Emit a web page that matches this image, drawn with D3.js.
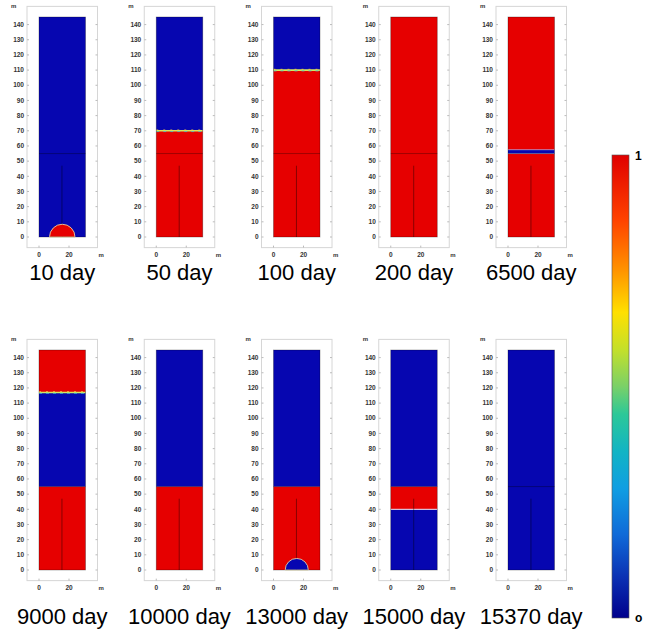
<!DOCTYPE html>
<html>
<head>
<meta charset="utf-8">
<script src="https://cdn.jsdelivr.net/npm/d3@7"></script>
<style>
  body { margin: 0; background: #fff; }
  svg { display: block; }
</style>
</head>
<body>
<svg id="chart"></svg>
<script>
// snapshot times (days), one panel each
var days = [10, 50, 100, 200, 6500, 9000, 10000, 13000, 15000, 15370];
// layers per panel: [bottom m, top m, value 0..1]
var layers = [
  [[0, 145, 0]],
  [[0, 70, 1], [70, 145, 0]],
  [[0, 110, 1], [110, 145, 0]],
  [[0, 145, 1]],
  [[0, 55, 1], [55, 57.5, 0], [57.5, 145, 1]],
  [[0, 55, 1], [55, 117, 0], [117, 145, 1]],
  [[0, 55, 1], [55, 145, 0]],
  [[0, 55, 1], [55, 145, 0]],
  [[0, 40, 0], [40, 55, 1], [55, 145, 0]],
  [[0, 145, 0]]
];
// dome at the well bottom: radius (m) and value, null when none
var domes = [[8.5, 1], null, null, null, null, null, null, [7.7, 0], null, null];
// mixing fronts (m), null when none
var fronts = [null, 70, 110, null, null, 117, null, null, null, null];
var yTicks = d3.range(0, 141, 10);
var xTicks = [0, 20];
var colorStops = [
  [0, "#00008c"], [0.08, "#0a2cb0"], [0.18, "#106ad8"], [0.28, "#109ee2"],
  [0.36, "#12b4c4"], [0.44, "#2cc898"], [0.5, "#7ad068"], [0.58, "#c4e02a"],
  [0.66, "#ffe000"], [0.75, "#ff9400"], [0.86, "#ff4200"], [1, "#e00000"]
];

var width = 646, height = 629;
var svg = d3.select("#chart").attr("width", width).attr("height", height);

var RED = "#e60000", BLUE = "#0606b0";
function fill(v) { return v > 0.5 ? RED : BLUE; }

var col = d3.scalePoint().domain(d3.range(5)).range([39, 508]);
var row = d3.scalePoint().domain([0, 1]).range([17, 350]);
var plotH = 220;

days.forEach(function (day, i) {
  var x0 = col(i % 5), y0 = row(Math.floor(i / 5));
  var x = d3.scaleLinear().domain([0, 31]).range([x0, x0 + 46.5]);
  var y = d3.scaleLinear().domain([0, 145]).range([y0 + plotH, y0]);
  var g = svg.append("g").attr("class", "panel");

  // frame
  var fx0 = x(-8), fx1 = x(39), fy0 = y(152), fy1 = y(-7);
  g.append("rect")
    .attr("x", fx0).attr("y", fy0)
    .attr("width", fx1 - fx0).attr("height", fy1 - fy0)
    .attr("fill", "#fff").attr("stroke", "#d6d6d6").attr("stroke-width", 1);

  // y ticks both sides
  yTicks.forEach(function (t) {
    g.append("line").attr("x1", fx0).attr("x2", fx0 + 2)
      .attr("y1", y(t)).attr("y2", y(t)).attr("stroke", "#bbb");
    g.append("line").attr("x1", fx1 - 2).attr("x2", fx1)
      .attr("y1", y(t)).attr("y2", y(t)).attr("stroke", "#bbb");
    g.append("text").attr("x", fx0 - 3).attr("y", y(t) + 2.2)
      .attr("text-anchor", "end")
      .style("font", "bold 6.5px 'Liberation Sans', Arial, sans-serif")
      .attr("fill", "#333").text(t);
  });
  xTicks.forEach(function (t) {
    g.append("line").attr("x1", x(t)).attr("x2", x(t))
      .attr("y1", fy1).attr("y2", fy1 - 2).attr("stroke", "#bbb");
    g.append("text").attr("x", x(t)).attr("y", fy1 + 9)
      .attr("text-anchor", "middle")
      .style("font", "bold 6.5px 'Liberation Sans', Arial, sans-serif")
      .attr("fill", "#333").text(t);
  });
  g.append("text").attr("x", fx0 - 16).attr("y", fy0 + 2)
    .style("font", "bold 6px 'Liberation Sans', Arial, sans-serif")
    .attr("fill", "#333").text("m");
  g.append("text").attr("x", fx1 + 1).attr("y", fy1 + 9)
    .style("font", "bold 6px 'Liberation Sans', Arial, sans-serif")
    .attr("fill", "#333").text("m");

  // layers
  g.selectAll("rect.layer")
    .data(layers[i])
    .enter()
    .append("rect")
    .attr("class", "layer")
    .attr("x", x(0))
    .attr("width", x(31) - x(0))
    .attr("y", function (d) { return y(d[1]); })
    .attr("height", function (d) { return y(d[0]) - y(d[1]); })
    .attr("fill", function (d) { return fill(d[2]); });

  // thin light edges around a narrow band
  layers[i].forEach(function (d) {
    if (d[1] - d[0] < 5) {
      [d[0], d[1]].forEach(function (v) {
        g.append("line").attr("x1", x(0)).attr("x2", x(31))
          .attr("y1", y(v)).attr("y2", y(v))
          .attr("stroke", "#9fb0ff").attr("stroke-width", 0.6);
      });
    }
  });
  if (day === 15000) {
    g.append("line").attr("x1", x(0)).attr("x2", x(31))
      .attr("y1", y(40)).attr("y2", y(40))
      .attr("stroke", "#e8e0f0").attr("stroke-width", 1);
  }

  // internal structure: interlayer at 55 m, well at 15 m
  g.append("line").attr("x1", x(0)).attr("x2", x(31))
    .attr("y1", y(55)).attr("y2", y(55))
    .attr("stroke", "#000").attr("stroke-opacity", 0.3).attr("stroke-width", 1);
  g.append("line").attr("x1", x(15.3)).attr("x2", x(15.3))
    .attr("y1", y(0)).attr("y2", y(47))
    .attr("stroke", "#000").attr("stroke-opacity", 0.4).attr("stroke-width", 1);

  // dome
  if (domes[i]) {
    var r = domes[i][0];
    var arc = d3.arc()
      .innerRadius(0)
      .outerRadius(x(r) - x(0))
      .startAngle(-Math.PI / 2)
      .endAngle(Math.PI / 2);
    g.append("path")
      .attr("d", arc())
      .attr("transform", "translate(" + x(15.5) + "," + y(0) + ")")
      .attr("fill", fill(domes[i][1]))
      .attr("stroke", "#f4e8b0").attr("stroke-width", 0.8);
  }

  // mixing front
  if (fronts[i] !== null) {
    var fy = y(fronts[i]);
    g.append("line").attr("x1", x(0)).attr("x2", x(31))
      .attr("y1", fy).attr("y2", fy)
      .attr("stroke", "#d4e860").attr("stroke-width", 1.6);
    g.append("line").attr("x1", x(0)).attr("x2", x(31))
      .attr("y1", fy + 0.8).attr("y2", fy + 0.8)
      .attr("stroke", "#40c8d0").attr("stroke-width", 0.8)
      .attr("stroke-dasharray", "3,4");
    g.append("line").attr("x1", x(0)).attr("x2", x(31))
      .attr("y1", fy - 0.8).attr("y2", fy - 0.8)
      .attr("stroke", "#ffd040").attr("stroke-width", 0.8)
      .attr("stroke-dasharray", "2,5");
  }

  // plot outline
  g.append("rect").attr("x", x(0)).attr("y", y(145))
    .attr("width", x(31) - x(0)).attr("height", y(0) - y(145))
    .attr("fill", "none").attr("stroke", "#000").attr("stroke-opacity", 0.35)
    .attr("stroke-width", 0.8);

  // title
  g.append("text")
    .attr("x", x(15.5))
    .attr("y", i < 5 ? 280 : 624)
    .attr("text-anchor", "middle")
    .style("font", "22px 'Liberation Sans', Arial, sans-serif")
    .attr("fill", "#000")
    .text(day + " day");
});

// colour bar
var defs = svg.append("defs");
var grad = defs.append("linearGradient").attr("id", "jet")
  .attr("x1", 0).attr("y1", 1).attr("x2", 0).attr("y2", 0);
grad.selectAll("stop").data(colorStops).enter().append("stop")
  .attr("offset", function (d) { return d[0]; })
  .attr("stop-color", function (d) { return d[1]; });

var cb = d3.scaleLinear().domain([0, 1]).range([618, 155]);
svg.append("rect")
  .attr("x", 612).attr("y", cb(1))
  .attr("width", 17).attr("height", cb(0) - cb(1))
  .attr("fill", "url(#jet)")
  .attr("stroke", "#555").attr("stroke-width", 0.6);
[1, 0].forEach(function (v) {
  svg.append("text")
    .attr("x", 635).attr("y", cb(v) + (v ? 5 : 4))
    .style("font", "bold 12px 'Liberation Sans', Arial, sans-serif")
    .attr("fill", "#000")
    .text(v ? "1" : "o");
});
</script>
</body>
</html>
